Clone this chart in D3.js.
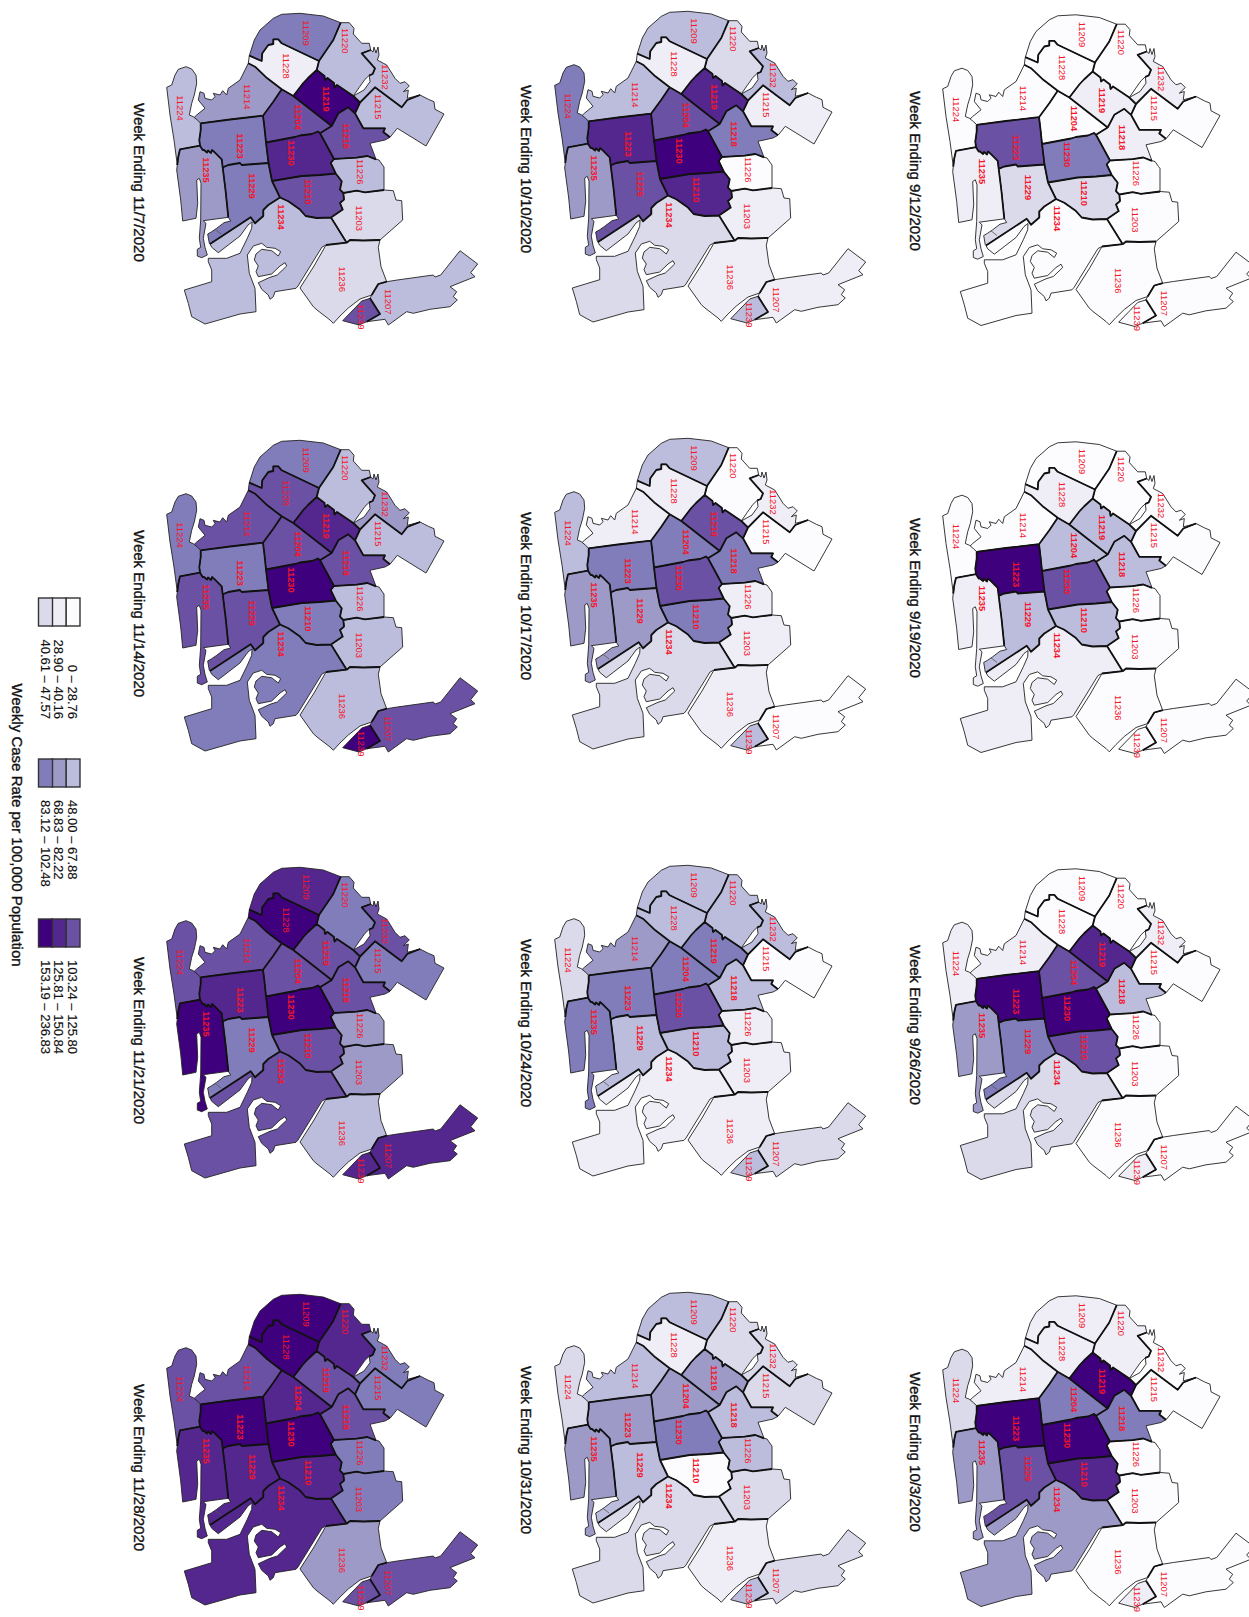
<!DOCTYPE html>
<html>
<head>
<meta charset="utf-8">
<script src="https://d3js.org/d3.v7.min.js"></script>
<style>
html, body { margin: 0; padding: 0; background: #fff; overflow: hidden; }
svg { display: block; }
text { font-family: "Liberation Sans", Arial, sans-serif; }
</style>
</head>
<body>
<svg id="viz" width="1249" height="1617"></svg>
<script>
// zip codes drawn, bold ones are the cluster zips
var zips = ["11204","11207","11203","11209","11210","11214","11215","11218","11219","11220","11223",
            "11224","11226","11228","11229","11230","11232","11234","11235","11236","11239"];
var boldZips = ["11204","11210","11218","11219","11223","11229","11230","11234","11235"];

// panels, one column at a time (right to left on the page is earliest to latest)
var weeks = ["9/12/2020","9/19/2020","9/26/2020","10/3/2020",
             "10/10/2020","10/17/2020","10/24/2020","10/31/2020",
             "11/7/2020","11/14/2020","11/21/2020","11/28/2020"];

var w0912 = [0,0,0,0,2,0,0,1,1,0,6,0,0,0,2,5,1,0,1,0,0];
var w0919 = [3,0,0,0,3,0,0,3,3,0,8,0,0,1,3,6,0,1,1,0,0];
var w0926 = [6,0,0,0,6,1,0,3,7,0,8,1,0,0,5,8,1,2,4,0,1];
var w1003 = [5,0,0,1,7,1,0,5,8,1,8,2,0,1,6,8,0,4,4,0,1];
var w1010 = [6,1,1,3,7,3,1,5,7,2,7,5,0,1,6,8,3,2,4,1,3];
var w1017 = [5,0,1,3,5,1,0,5,6,0,5,3,1,1,4,6,1,2,4,1,3];
var w1024 = [5,2,1,3,3,4,0,3,5,3,5,2,1,3,3,6,3,1,5,1,3];
var w1031 = [4,2,2,3,0,3,2,3,4,2,4,2,3,1,3,5,2,2,4,1,3];
var w1107 = [6,3,2,5,6,4,3,6,8,3,5,3,3,1,5,7,3,3,4,2,6];
var w1114 = [6,6,3,5,5,6,3,6,7,3,5,5,3,6,6,8,4,5,6,3,8];
var w1121 = [6,7,4,7,6,6,5,6,6,5,7,6,4,8,5,8,6,6,8,3,7];
var w1128 = [7,6,5,8,7,6,5,6,6,7,8,6,5,8,7,8,5,7,7,4,6];
var weekClasses = [w0912,w0919,w0926,w1003,w1010,w1017,w1024,w1031,w1107,w1114,w1121,w1128];

var classColors = ["#fcfbfd","#efedf5","#dadaeb","#bcbddc","#9e9ac8","#807dba","#6a51a3","#54278f","#3f007d"];
var legendLabels = ["0 – 28.76","28.90 – 40.16","40.61 – 47.57",
                    "48.00 – 67.88","68.83 – 82.22","83.12 – 102.48",
                    "103.24 – 125.80","125.81 – 150.84","153.19 – 236.83"];

// map geometry, traced boundary pieces (shared ones named after both zips)
var arcs = {
  c224: [[177.3,165],[174,140],[170,115],[166.7,87.3],[171.7,85],[175,75],[178.3,69.3],[186,66.7],[191.7,69],[196,75],[196.7,83.3],[194.3,95],[191.7,103.3],[189.3,115],[193.3,116.7],[197.3,120],[200.7,123.3]],
  e224_223: [[200.7,123.3],[200.7,130],[199.3,140],[200,145.7]],
  e224_235: [[200,145.7],[180,149.3],[178.3,156.7],[177.3,165]],
  c235: [[177.3,165],[176.7,170],[180.7,200],[182.7,221],[196,218.3],[197.7,203.3],[196.7,180],[199.3,178.3],[201,183.3],[200.7,220],[199.3,238.3],[200.7,247.3],[197.3,249.3],[197.3,256],[201.7,257.7],[207.3,255],[205,247.3],[203.3,238.3],[206,223.3],[203.3,220.7],[228.3,217.3]],
  e235_229: [[228.3,217.3],[225.5,190],[222.7,167.3]],
  e235_223: [[222.7,167.3],[221.7,159.3],[215,152.7],[212,150],[211,153],[208,150.5],[207,152.5],[204,150],[202.7,150],[200,145.7]],
  e223_214: [[200.7,123.3],[230,119.5],[263,115.7]],
  e223_204: [[263,115.7],[264.5,128],[266,142.5]],
  e223_230: [[266,142.5],[268.5,163]],
  e223_229: [[268.5,163],[255,164],[241.7,165],[240,163],[228.3,165],[222.7,167.3]],
  e230_229: [[268.5,163],[272,181]],
  e229_210: [[272,181],[280,197.5]],
  e229_234: [[280,197.5],[268.3,205],[263.3,210],[263.3,216],[255,223.3],[250.7,217.3],[210,244]],
  c229: [[228.3,217.3],[230.7,221],[224,222.7],[216.7,228.3],[211.7,231.7],[207.7,234],[209.3,243.3],[210,244]],
  e210_234: [[280,197.5],[288.3,201.3],[300,209.6],[305.7,216],[316.7,218],[331,217.5]],
  e210_203: [[331,217.5],[342.7,209.6],[340,203],[344,199.6],[343.3,193]],
  e210_226: [[343.3,193],[340,189.6],[341.7,181.3],[335.7,173.5]],
  e210_230: [[335.7,173.5],[320,175],[301.7,176],[272,181]],
  e230_226: [[335.7,173.5],[330.7,163],[334,159]],
  e230_218: [[334,159],[320,133.3]],
  e230_204: [[320,133.3],[318,131.5],[312,134],[300,135.5],[295,137],[266,142.5]],
  e204_218: [[320,133.3],[331.7,126]],
  e204_219: [[331.7,126],[293.3,96]],
  e204_228: [[293.3,96],[281.7,89.3]],
  e204_214: [[281.7,89.3],[273.3,101.7],[263,115.7]],
  e214_228: [[281.7,89.3],[267.3,78.3],[255,66.7],[248.3,63.3]],
  c214: [[248.3,63.3],[240,80],[228.3,88.3],[226.7,95],[222.7,90.7],[220,95],[213.3,93.3],[215,96.7],[211.7,100],[205,98.3],[204,93.3],[200,91.7],[198.3,100],[205,108.3],[196.7,115],[193.3,118.3],[200.7,123.3]],
  e228_209: [[249.3,55.7],[261.7,61],[262.3,53.3],[268.3,45],[273.3,44],[273.3,39.3],[278.3,39.3],[281.7,43.3],[319,61]],
  c228: [[248.3,63.3],[249.3,55.7]],
  e228_220: [[319,61],[316.7,70]],
  e228_219: [[316.7,70],[308,78],[303.3,83],[293.3,96]],
  c209: [[249.3,55.7],[254.3,40],[260,30],[273.3,18.3],[281.7,14.3],[300,13.3],[323.3,16],[340.7,22.7]],
  e209_220: [[340.7,22.7],[333.3,40],[319,61]],
  e219_220: [[316.7,70],[324.5,76],[325,80],[327.5,78],[334,83],[334.5,87.5],[337,85],[353.3,96]],
  e219_232: [[353.3,96],[360,102.5]],
  e219_215: [[360,102.5],[355,113.3]],
  e219_218: [[355,113.3],[348.3,107.3],[338.3,113.3],[331.7,126]],
  e218_215: [[355,113.3],[363.3,128.3],[385,128.3],[383.3,132],[390,137.3]],
  c215: [[390,137.3],[397.3,128.3],[426,146],[444,114],[435,109.3],[434,101.7],[428.3,99.3],[420,95]],
  c218: [[390,137.3],[385,140],[370,143.3],[376,159.3]],
  e218_226: [[376,159.3],[367.3,156],[356.7,157.7],[340,158.7],[334,159]],
  c226: [[376,159.3],[379,160],[382.5,165],[384,167],[384,190]],
  e226_203: [[384,190],[365,192.3],[356.7,190.7],[343.3,193]],
  c203: [[384,190],[393.3,190.7],[396,200],[401.7,200.7],[402.7,220],[380,240]],
  e203_236: [[380,240],[363.3,240.5],[350,240],[346.7,242.7]],
  e203_234: [[346.7,242.7],[331,217.5]],
  e234_236: [[346.7,242.7],[326,245]],
  c236: [[326,245],[314,266],[300,288],[313.3,306.7],[317,310],[330,320],[333.3,323.3],[340,316],[348.3,308],[360,299],[371.7,295]],
  e236_207: [[371.7,295],[378.3,284],[386.7,281.7]],
  c236b: [[386.7,281.7],[381,266.7],[378.3,247.3],[380,240]],
  c207: [[386.7,281.7],[397.3,280],[433.3,275],[435,277],[440.7,275],[460,250.7],[477.7,264],[470.7,272.7],[475,276.7],[450,286.7],[456.7,291.7],[453.3,296.7],[457.3,300],[450,306.7],[430,309.3],[413.3,313.3],[406.7,311.7],[388.3,325],[385,319.3],[366.7,321.7]],
  e207_239: [[366.7,321.7],[380,314],[370,298.3]],
  c207b: [[370,298.3],[371.7,295]],
  c239: [[370,298.3],[361.7,301],[354,309],[342.7,320.7],[359,325],[366.7,321.7]],
  c234: [[326,245],[322,247],[298,286],[296,288.3],[275,291.7],[273.3,296.7],[270,299.3],[268.3,295],[261.7,289.3],[258.3,282.7],[270,277.3],[277.3,275],[286.7,266],[285,262.7],[280,266],[271.7,274],[258.3,276.7],[256,271.7],[258.3,266],[254.3,260],[256,254],[261.7,249.3],[271.7,250.7],[278.3,256],[280.7,251.7],[275,248.3],[266.7,247.3],[261.7,243.3],[253.3,246],[247.3,255],[249.3,273.3],[255,288.3],[256,311.7],[240,314],[205,324],[191.7,316.7],[188.3,303.3],[184.3,290],[211.7,281.7],[211.7,270],[208.3,261.7],[208.3,258.3],[226.7,258.3],[240,253.3],[247.3,238.3],[251.7,228.3],[252,222],[248,225],[240,236],[218.3,252.7],[211.7,247.3],[210,244]],
  c220a: [[340.7,22.7],[349.3,22.7],[354,28.3],[353.3,34],[361.7,43.3],[369.3,43.3],[370.7,50]],
  e220_232: [[370.7,50],[361.7,53.3],[375,68.3],[372.7,74],[369.3,75.3]],
  c220b: [[369.3,75.3],[365,79.3],[359.3,87.3],[353.3,96]],
  c232b: [[369.3,75.3],[370,81.7],[364,90],[353.3,96]],
  e232_215: [[360,102.5],[375,87.3],[401.7,107.3],[407.3,100],[420,95]],
  c232: [[370.7,50],[373,52],[374,47],[376,53],[378,47],[379,55],[377.3,60],[386.7,65],[395,78.3],[400,83.3],[405,81.7],[409.3,86],[403.3,91.7],[408.3,90],[407.3,98.3],[420,95]]
};
// thin tract line inside the small part of 11229
var tractLine = [[215,229.3],[221,234]];

// rings per zip, "-" means the piece is walked backwards
var rings = {
  "11204": ["e204_219","e204_228","e204_214","e223_204","-e230_204","e204_218"],
  "11207": ["c207","e207_239","c207b","e236_207"],
  "11203": ["-e226_203","c203","e203_236","e203_234","e210_203"],
  "11209": ["c209","e209_220","-e228_209"],
  "11210": ["e229_210","e210_234","e210_203","e210_226","e210_230"],
  "11214": ["c214","e223_214","-e204_214","e214_228"],
  "11215": ["e219_215","e218_215","c215","-e232_215"],
  "11218": ["e218_215","c218","e218_226","e230_218","e204_218","-e219_218"],
  "11219": ["e219_220","e219_232","e219_215","e219_218","e204_219","-e228_219"],
  "11220": ["c220a","e220_232","c220b","-e219_220","-e228_220","-e209_220"],
  "11223": ["e224_223","-e235_223","-e223_229","-e223_230","-e223_204","-e223_214"],
  "11224": ["c224","e224_223","e224_235"],
  "11226": ["-e218_226","c226","e226_203","e210_226","e230_226"],
  "11228": ["e228_209","e228_220","e228_219","e204_228","e214_228","c228"],
  "11229": ["e235_229","-e223_229","e230_229","e229_210","e229_234","-c229"],
  "11230": ["e223_230","e230_229","-e210_230","e230_226","e230_218","e230_204"],
  "11232": ["e220_232","c232b","e219_232","e232_215","-c232"],
  "11234": ["-e229_234","e210_234","-e203_234","e234_236","c234"],
  "11235": ["-e224_235","-e235_223","-e235_229","-c235"],
  "11236": ["-e203_236","-c236b","-e236_207","-c236","-e234_236"],
  "11239": ["c239","e207_239"]
};

// label anchor of each zip, same map units as the arcs
var labelSpots = {
  "11204": [298.3,117], "11207": [388.3,301.7], "11203": [359.3,218.3], "11209": [306.7,33],
  "11210": [308.3,191.7], "11214": [247.3,96.7], "11215": [378.3,106.7], "11218": [346,136],
  "11219": [326.7,99], "11220": [345.7,40.7], "11223": [240.7,146], "11224": [180.7,108],
  "11226": [360.7,171.7], "11228": [286,66], "11229": [252.3,186], "11230": [291.7,153],
  "11232": [385,77], "11234": [281.7,217], "11235": [206.7,170], "11236": [342.7,279.3],
  "11239": [361.7,316.7]
};

var colX = [776, 388, 0],
    colY = [1.5, -2, 0],
    rowStep = 427,
    titleX = [915, 526, 139],
    titleStart = [91, 85, 103];

var svg = d3.select("#viz");
svg.append("rect").attr("width", 1249).attr("height", 1617).attr("fill", "#fff");

var color = d3.scaleOrdinal().domain(d3.range(9)).range(classColors);

function walk(name) {
    var rev = name[0] == "-";
    var pts = arcs[rev ? name.slice(1) : name];
    return rev ? pts.slice().reverse() : pts;
}

var features = zips.map(function(z) {
    var ring = [];
    rings[z].forEach(function(a) { ring = ring.concat(walk(a)); });
    ring.push(ring[0]);
    return { type: "Feature", id: z, geometry: { type: "Polygon", coordinates: [ring] } };
});

// pieces shared by two zips get the heavier line
var innerLines = {
    type: "MultiLineString",
    coordinates: Object.keys(arcs).filter(function(k) { return k[0] == "e"; }).map(function(k) { return arcs[k]; })
};

var path = d3.geoPath(d3.geoIdentity());

weeks.forEach(function(week, i) {
    var col = Math.floor(i / 4), row = i % 4;
    var g = svg.append("g")
        .attr("transform", "translate(" + colX[col] + "," + (colY[col] + row * rowStep) + ")");

    g.selectAll("path.zip")
        .data(features)
        .enter()
        .append("path")
        .attr("class", "zip")
        .attr("d", path)
        .attr("fill", function(d, j) { return color(weekClasses[i][j]); })
        .attr("stroke", "#222")
        .attr("stroke-width", 0.9)
        .attr("stroke-linejoin", "round");

    g.append("path")
        .datum({ type: "LineString", coordinates: tractLine })
        .attr("d", path)
        .attr("fill", "none")
        .attr("stroke", "#555")
        .attr("stroke-width", 0.8);

    g.append("path")
        .datum(innerLines)
        .attr("d", path)
        .attr("fill", "none")
        .attr("stroke", "#111")
        .attr("stroke-width", 1.8)
        .attr("stroke-linejoin", "round");

    g.selectAll("text.zip")
        .data(zips)
        .enter()
        .append("text")
        .attr("class", "zip")
        .attr("transform", function(z) {
            return "translate(" + labelSpots[z][0] + "," + labelSpots[z][1] + ") rotate(90)";
        })
        .attr("text-anchor", "middle")
        .attr("dy", "0.35em")
        .attr("font-size", 9.4)
        .attr("font-weight", function(z) { return boldZips.indexOf(z) >= 0 ? "bold" : "normal"; })
        .attr("fill", "#f5142a")
        .text(function(z) { return z; });

    svg.append("text")
        .attr("transform", "translate(" + titleX[col] + "," + (titleStart[col] + row * rowStep) + ") rotate(90)")
        .attr("text-anchor", "start")
        .attr("dy", "0.35em")
        .attr("font-size", 15)
        .attr("fill", "#111")
        .attr("stroke", "#111")
        .attr("stroke-width", 0.35)
        .text("Week Ending " + week);
});

// legend, three groups of three swatches
var legendTop = [598, 759, 919],
    swatchX = [66, 52, 38.5],
    textX = [72.5, 59, 45.5],
    swatchW = 14,
    swatchH = 28;

classColors.forEach(function(c, i) {
    var group = Math.floor(i / 3), k = i % 3;
    svg.append("rect")
        .attr("x", swatchX[k])
        .attr("y", legendTop[group])
        .attr("width", swatchW)
        .attr("height", swatchH)
        .attr("fill", c)
        .attr("stroke", "#333")
        .attr("stroke-width", 1.4);
    svg.append("text")
        .attr("transform", "translate(" + textX[k] + "," + (group == 0 ? 719 : legendTop[group] + 41) + ") rotate(90)")
        .attr("text-anchor", group == 0 ? "end" : "start")
        .attr("dy", "0.35em")
        .attr("font-size", 13)
        .attr("fill", "#111")
        .attr("stroke", "#111")
        .attr("stroke-width", 0.15)
        .text(legendLabels[i]);
});

svg.append("text")
    .attr("transform", "translate(17,825) rotate(90)")
    .attr("text-anchor", "middle")
    .attr("dy", "0.35em")
    .attr("font-size", 15)
    .attr("fill", "#111")
    .attr("stroke", "#111")
    .attr("stroke-width", 0.35)
    .text("Weekly Case Rate per 100,000 Population");
</script>
</body>
</html>
